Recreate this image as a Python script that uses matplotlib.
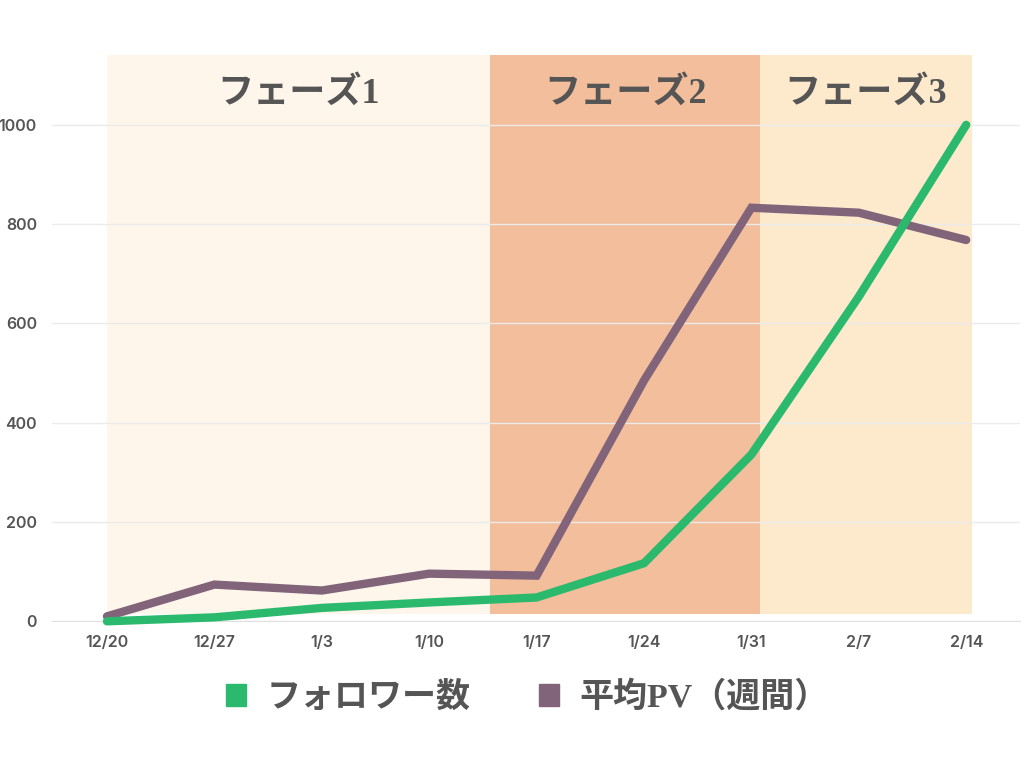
import matplotlib.pyplot as plt
from matplotlib.patches import Patch

dates = ["12/20", "12/27", "1/3", "1/10", "1/17", "1/24", "1/31", "2/7", "2/14"]
followers = [0, 8, 27, 38, 48, 117, 336, 654, 1000]
avg_pv = [10, 74, 62, 96, 92, 485, 833, 823, 768]

phase_names = ["フェーズ1", "フェーズ2", "フェーズ3"]
phase_edges = [0, 3.57, 6.08, 8.05]
phase_colors = ["#FEF6EA", "#F2BE9C", "#FDE9CC"]

GREEN = "#2BB96E"
PURPLE = "#82647A"
TEXT = "#555555"
JP_FONT = ["Liberation Serif", "Noto Sans CJK JP", "DejaVu Sans"]


def main():
    fig = plt.figure(figsize=(10.24, 7.68), dpi=100)
    ax = fig.add_axes([0.051, 0.191, 0.945, 0.737])
    x = list(range(len(dates)))

    for i, name in enumerate(phase_names):
        x0, x1 = phase_edges[i], phase_edges[i + 1]
        ax.axvspan(x0, x1, ymin=14 / 1140, ymax=1, color=phase_colors[i], zorder=0, lw=0)
        ax.text((x0 + x1) / 2, 1062, name, ha="center", va="center",
                fontsize=26, fontweight="bold", color=TEXT, family=JP_FONT, zorder=5)

    ax.plot(x, followers, color=GREEN, lw=6, solid_capstyle="round",
            solid_joinstyle="miter", zorder=4, clip_on=False)
    ax.plot(x, avg_pv, color=PURPLE, lw=6, solid_capstyle="round",
            solid_joinstyle="miter", zorder=3, clip_on=False)

    ax.set_xlim(-0.51, 8.5)
    ax.set_ylim(0, 1140)
    ax.set_yticks([0, 200, 400, 600, 800, 1000])
    ax.set_xticks(x)
    ax.set_xticklabels(dates)
    ax.grid(axis="y", color="#EBEBEB", lw=1, zorder=1)
    ax.set_axisbelow(False)
    for side in ["top", "right", "left"]:
        ax.spines[side].set_visible(False)
    ax.spines["bottom"].set_color("#E0E0E0")
    ax.tick_params(length=0, labelsize=11.5, labelcolor=TEXT, pad=10)
    ax.tick_params(axis="y", pad=11)
    for lbl in ax.get_xticklabels() + ax.get_yticklabels():
        lbl.set_fontfamily("Inter")
        lbl.set_fontweight("semibold")

    handles = [Patch(color=GREEN), Patch(color=PURPLE)]
    fig.legend(handles, ["フォロワー数", "平均PV（週間）"], loc="center",
               bbox_to_anchor=(0.515, 0.092), ncol=2, frameon=False,
               handlelength=0.6, handleheight=0.6, handletextpad=0.6,
               columnspacing=2.0,
               prop={"family": JP_FONT, "size": 24.5, "weight": "bold"},
               labelcolor=TEXT)

    fig.savefig("out.png", dpi=100, facecolor="white")


if __name__ == "__main__":
    main()
